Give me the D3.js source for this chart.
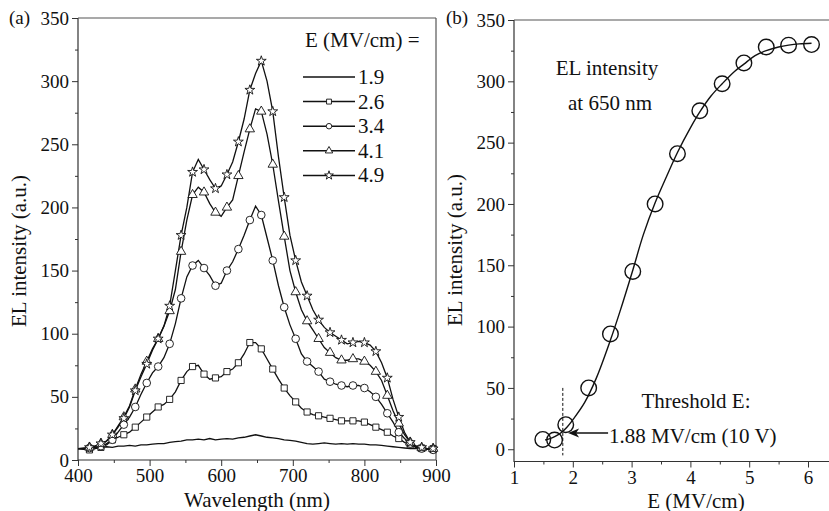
<!DOCTYPE html>
<html><head><meta charset="utf-8">
<script src="https://cdn.jsdelivr.net/npm/d3@7"></script>
<style>text{font-family:"Liberation Serif",serif;}</style>
</head>
<body style="margin:0;background:#fff"><svg id="c" width="829" height="511" font-family="Liberation Serif"></svg>
<script>
// ---------- Panel (a) data ----------
const wavelength = [400,408,416,424,432,440,448,456,464,472,480,488,496,504,512,520,528,536,544,552,560,568,576,584,592,600,608,616,624,632,640,648,656,664,672,680,688,696,704,712,720,728,736,744,752,760,768,776,784,792,800,808,816,824,832,840,848,856,864,872,880,888,896,900];
const fieldLabels = ["1.9","2.6","3.4","4.1","4.9"];
const s19 = [9,9.5,9,10,10,10.5,10,11,11,11.5,11,12,12,12.5,13,13,14,14.5,15,16,16,16.5,16,17,16,16.5,17,16.5,17.5,18,19,20,19,18,17.5,17,16,15.5,15,14,13,12.5,13,13.5,13,12.5,13,12.5,13,12.5,12.5,12,12,11.5,11,10.5,10,9.5,9,9,8.5,8.5,8,8];
const s26 = [9,8.5,8,9,10,13,16,18,20,22,26,30,34,38,42,44,48,54,63,70,74,75,68,64,65,66,70,72,77,84,93,93,88,80,72,64,57,51,46,41,38,36,35,34,33,32,31,31,31,31,30,28,26,24,22,19,17,14,12,10,9.5,9,9,9];
const s34 = [9,9,9.5,10,11,12,16,22,28,34,42,52,61,69,74,81,92,108,128,145,154,158,152,146,138,140,150,157,167,178,190,201,194,176,158,138,121,107,96,84,78,74,70,64,62,60,59,58,59,59,57,54,50,44,37,30,22,17,13,10,9,8.5,8,8];
const s41 = [9,9,10,11,13,15,20,27,34,43,56,68,78,88,96,106,118,135,165,190,210,216,212,203,196,193,200,206,225,244,262,278,276,258,234,205,177,150,133,119,110,103,96,89,85,81,79,79,80,80,78,75,70,63,51,39,29,20,14,11,9.5,9,9,8];
const s49 = [9,9,10,11,13,15,20,26,33,42,55,66,76,87,96,106,122,150,178,200,228,238,230,222,215,217,226,236,252,270,293,306,316,300,276,240,208,178,158,141,130,119,111,105,101,98,95,92,93,94,93,91,86,77,65,48,34,22,14,11,10,9,9,8];
const seriesList = [s19, s26, s34, s41, s49];
const markerTypes = [null, "square", "circle", "triangle", "star"];
const xTicksA = [400,500,600,700,800,900];
const xMinorA = [450,550,650,750,850];
const yTicks = [0,50,100,150,200,250,300,350];
const yMinor = [25,75,125,175,225,275,325];

// ---------- Panel (b) data ----------
const fieldE = [1.49,1.69,1.88,2.27,2.64,3.02,3.40,3.78,4.16,4.54,4.91,5.29,5.67,6.06];
const intensity650 = [8,7.5,20,50,94,145,200,241,276,298,315,328,329.5,330];
const fitE = [1.53,1.6,1.7,1.8,1.9,2.0,2.2,2.4,2.64,2.8,3.02,3.2,3.4,3.6,3.78,4.0,4.16,4.35,4.54,4.75,4.91,5.1,5.29,5.5,5.67,5.85,6.06];
const fitI = [7.5,8.5,10.5,13.5,18,24,38,58,89,112,146,175,201,223,242,262,275,288,298,308,314,321,325,328,329.5,330.5,331];
const xTicksB = [1,2,3,4,5,6];
const xMinorB = [1.5,2.5,3.5,4.5,5.5,6.5];
const thresholdE = 1.83;

const SERIF = '"Liberation Serif"';
const svg = d3.select("#c");
const FONT_TICK = 19, FONT_TXT = 21;

function symPath(type, size){
  const map = {square:d3.symbolSquare, circle:d3.symbolCircle, triangle:d3.symbolTriangle, star:d3.symbolStar};
  return d3.symbol().type(map[type]).size(size)();
}

function drawAxes(g, x, y, xt, xm, yt, ym, x0, x1, y0, y1){
  g.append("g").attr("transform",`translate(0,${y0})`)
    .call(d3.axisBottom(x).tickValues(xt).tickSize(6).tickPadding(3).tickFormat(d3.format("d")));
  g.append("g").attr("transform",`translate(0,${y0})`)
    .call(d3.axisBottom(x).tickValues(xm).tickSize(3).tickFormat(""));
  g.append("g").attr("transform",`translate(${x0},0)`)
    .call(d3.axisLeft(y).tickValues(yt).tickSize(6).tickPadding(3));
  g.append("g").attr("transform",`translate(${x0},0)`)
    .call(d3.axisLeft(y).tickValues(ym).tickSize(3).tickFormat(""));
  g.selectAll("g").attr("font-family","Liberation Serif");
  g.selectAll(".domain").remove();
  g.selectAll(".tick line").attr("stroke","#333").attr("stroke-width",1);
  g.selectAll(".tick text").attr("font-family","Liberation Serif").style("font-family",SERIF).style("font-size",FONT_TICK+"px").attr("fill","#111");
  g.append("path").attr("d",`M${x0},${y1}V${y0}H${x1}`).attr("fill","none").attr("stroke","#333").attr("stroke-width",1.2);
  g.append("path").attr("d",`M${x0},${y1}H${x1}`).attr("fill","none").attr("stroke","#555").attr("stroke-width",1.2);
}

function txt(g, x, y, s, size, anchor){
  return g.append("text").attr("x",x).attr("y",y).attr("font-family","Liberation Serif").style("font-family",SERIF).style("font-size",size+"px")
    .attr("text-anchor",anchor||"start").attr("fill","#111").text(s);
}

// ---------- Panel (a) ----------
const xA = d3.scaleLinear().domain([400,900]).range([78,436]);
const yA = d3.scaleLinear().domain([0,350]).range([460,18]);
const gA = svg.append("g");
drawAxes(gA, xA, yA, xTicksA, xMinorA, yTicks, yMinor, 78, 436, 460, 18);
gA.append("line").attr("x1",436).attr("x2",436).attr("y1",18).attr("y2",460).attr("stroke","#555").attr("stroke-width",1.2);

const lineA = d3.line().x((d,i)=>xA(wavelength[i])).y(d=>yA(d));
seriesList.forEach((s)=>{
  gA.append("path").attr("d",lineA(s)).attr("fill","none").attr("stroke","#111").attr("stroke-width",1.3);
});
const mSize = {square:38, circle:46, triangle:38, star:30};
seriesList.forEach((s,k)=>{
  const t = markerTypes[k]; if(!t) return;
  const pts = wavelength.map((w,i)=>[w,s[i]]).filter(p=>p[0]%16===0 && p[0]>400 && p[0]<900);
  gA.selectAll(null).data(pts).enter().append("path")
    .attr("d",symPath(t,mSize[t]))
    .attr("transform",p=>`translate(${xA(p[0])},${yA(p[1])})`)
    .attr("fill","#fff").attr("stroke","#111").attr("stroke-width",0.9);
});

// legend
txt(gA, 305, 47, "E (MV/cm) =", FONT_TXT);
fieldLabels.forEach((lab,k)=>{
  const ly = 77 + k*24.6;
  gA.append("line").attr("x1",303).attr("x2",355).attr("y1",ly).attr("y2",ly).attr("stroke","#111").attr("stroke-width",1.5);
  const t = markerTypes[k];
  if(t) gA.append("path").attr("d",symPath(t,24)).attr("transform",`translate(329,${ly})`).attr("fill","#fff").attr("stroke","#111").attr("stroke-width",0.9);
  txt(gA, 358, ly+7, lab, FONT_TXT);
});

txt(gA, 9, 24, "(a)", FONT_TICK);
txt(gA, 257, 507, "Wavelength (nm)", FONT_TXT, "middle");
gA.append("text").attr("transform","translate(26,251) rotate(-90)").attr("text-anchor","middle")
  .attr("font-family","Liberation Serif").style("font-family",SERIF).style("font-size",FONT_TXT+"px").attr("fill","#111").text("EL intensity (a.u.)");

// ---------- Panel (b) ----------
const xB = d3.scaleLinear().domain([1,6.5]).range([514,837.4]);
const yB = d3.scaleLinear().domain([-10,350]).range([461.5,20]);
const gB = svg.append("g");
drawAxes(gB, xB, yB, xTicksB, xMinorB, yTicks, yMinor, 514, 840, 461.5, 20);

const fitLine = d3.line().x((d,i)=>xB(fitE[i])).y(d=>yB(d)).curve(d3.curveCatmullRom);
gB.append("path").attr("d",fitLine(fitI)).attr("fill","none").attr("stroke","#111").attr("stroke-width",1.4);
gB.selectAll(null).data(fieldE).enter().append("circle")
  .attr("cx",d=>xB(d)).attr("cy",(d,i)=>yB(intensity650[i])).attr("r",7.8)
  .attr("fill","none").attr("stroke","#111").attr("stroke-width",1.4);

gB.append("line").attr("x1",xB(thresholdE)).attr("x2",xB(thresholdE)).attr("y1",yB(50)).attr("y2",yB(-5))
  .attr("stroke","#111").attr("stroke-width",1).attr("stroke-dasharray","3,2");
gB.append("line").attr("x1",xB(2.6)).attr("x2",xB(1.97)).attr("y1",yB(13.3)).attr("y2",yB(13.3)).attr("stroke","#111").attr("stroke-width",1.6);
gB.append("path").attr("d",`M${xB(1.92)},${yB(13.3)}l11,-4.5l-3,4.5l3,4.5z`).attr("fill","#111");

txt(gB, 696, 408, "Threshold E:", FONT_TXT, "middle");
txt(gB, 609, 443, "1.88 MV/cm (10 V)", FONT_TXT);
txt(gB, 607, 75, "EL intensity", FONT_TXT, "middle");
txt(gB, 610, 110, "at 650 nm", FONT_TXT, "middle");
txt(gB, 446, 24, "(b)", FONT_TICK);
txt(gB, 696, 508, "E (MV/cm)", FONT_TXT, "middle");
gB.append("text").attr("transform","translate(462,250) rotate(-90)").attr("text-anchor","middle")
  .attr("font-family","Liberation Serif").style("font-family",SERIF).style("font-size",FONT_TXT+"px").attr("fill","#111").text("EL intensity (a.u.)");
</script></body></html>
